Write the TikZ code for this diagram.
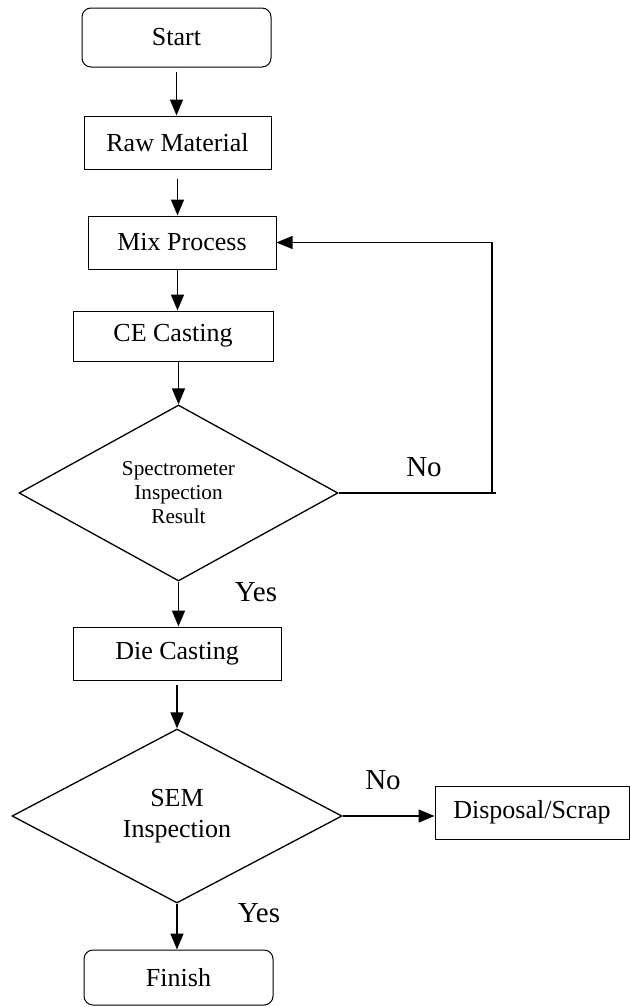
\documentclass[tikz,border=0pt]{standalone}
\usepackage{fontspec}
\setmainfont{Liberation Serif}
\usetikzlibrary{arrows.meta,shapes.geometric}
\begin{document}
\begin{tikzpicture}[x=0.5pt,y=-0.5pt,
  box/.style={draw, line width=0.5pt, inner sep=0pt, font=\fontsize{13}{15.5}\selectfont},
  term/.style={box, rounded corners=4.5pt},
  dec/.style={draw, diamond, line width=0.65pt, inner sep=0pt, align=center},
  arr/.style={line width=0.8pt, -{Triangle[length=8pt,width=6.5pt]}},
  conn/.style={line width=0.6pt},
  lbl/.style={font=\fontsize{14.5}{17}\selectfont, inner sep=0pt}]
\useasboundingbox (0,0) rectangle (630,1007);
\node[term, minimum width=94.5pt, minimum height=29.5pt] (start) at (176.5,37.5) {Start};
\node[box, minimum width=93.5pt, minimum height=26.5pt] (raw) at (177.5,142.5) {Raw Material};
\node[box, minimum width=94pt, minimum height=26.5pt] (mix) at (182,242.5) {Mix Process};
\node[box, minimum width=100pt, minimum height=25pt] (ce) at (173,336) {CE Casting};
\node[dec, minimum width=159.5pt, minimum height=88pt, font=\fontsize{10.6}{12}\selectfont] (d1) at (178.5,493) {Spectrometer\\Inspection\\Result};
\node[box, minimum width=104pt, minimum height=26.5pt] (die) at (177,653.5) {Die Casting};
\node[dec, minimum width=165pt, minimum height=87pt, font=\fontsize{13}{15.5}\selectfont] (d2) at (177,816) {SEM\\Inspection};
\node[box, minimum width=97pt, minimum height=26.5pt] (disp) at (532,812.5) {Disposal/Scrap};
\node[term, minimum width=94.5pt, minimum height=27.5pt] (finish) at (178.5,977.5) {Finish};
\draw[arr, shorten <=2pt] (start.south) -- (start.south |- raw.north);
\draw[arr, shorten <=4.5pt] (raw.south) -- (raw.south |- mix.north);
\draw[arr] (raw.south |- mix.south) -- (raw.south |- ce.north);
\draw[arr] (ce.south -| d1.north) -- (d1.north);
\draw[arr] (d1.south) -- (d1.south |- die.north);
\draw[arr, shorten <=2pt] (die.south -| d2.north) -- (d2.north);
\draw[arr] (d2.south) -- (d2.south |- finish.north);
\draw[arr] (d2.east) -- (d2.east -| disp.west);
\coordinate (fb) at (492,493);
\coordinate (fbend) at (496,493);
\draw[conn] (d1.east) -- (fbend);
\draw[arr, line width=0.6pt] (fb) |- (mix.east);
\node[lbl] (no1) at (424,467) {No};
\node[lbl] (yes1) at (256,592) {Yes};
\node[lbl] (no2) at (383,780) {No};
\node[lbl] (yes2) at (259,913) {Yes};
\end{tikzpicture}
\end{document}
